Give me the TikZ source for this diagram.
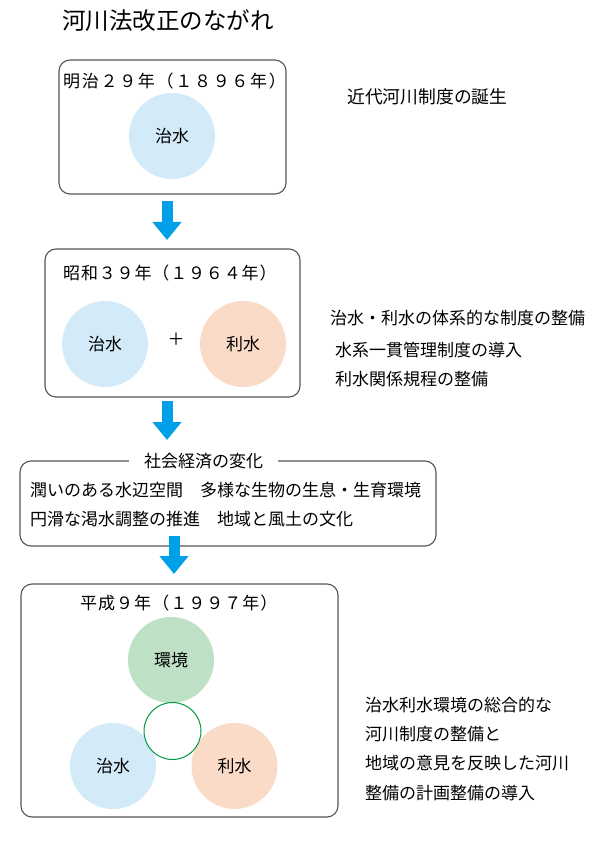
\documentclass[tikz,border=0pt]{standalone}
\usepackage{fontspec}
\setmainfont{Noto Sans CJK JP}
\usetikzlibrary{arrows.meta}
\definecolor{cblue}{RGB}{211,235,249}
\definecolor{cpeach}{RGB}{250,219,200}
\definecolor{cgreen}{RGB}{190,224,196}
\definecolor{arrowblue}{RGB}{0,160,233}
\definecolor{ringgreen}{RGB}{0,153,68}
\definecolor{boxgray}{RGB}{85,85,85}
\tikzset{
  frame/.style={draw=boxgray, line width=1.1pt, rounded corners=11pt, inner sep=0pt},
  txt/.style={anchor=west, inner sep=0pt, font=\fontsize{17pt}{20pt}\selectfont},
  ctxt/.style={inner sep=0pt, font=\fontsize{17pt}{20pt}\selectfont},
  disc/.style={circle, inner sep=0pt, minimum size=86pt, font=\fontsize{17pt}{20pt}\selectfont},
  bigarrow/.style={arrowblue, line width=11pt, -{Triangle[width=28pt,length=18pt]}},
}
\begin{document}
\begin{tikzpicture}[x=1pt,y=-1pt]
\useasboundingbox (0,0) rectangle (595,842);
% title
\node[anchor=west, inner sep=0pt, font=\fontsize{23.5pt}{28pt}\selectfont] (title) at (62,21) {河川法改正のながれ};

% box 1
\node[frame, minimum width=227pt, minimum height=134pt] (b1) at (172.5,127) {};
\node[txt] (l1) at (63,81) {\addfontfeature{LetterSpace=10}明治２９年（１８９６年）};
\node[disc, fill=cblue] (c1) at (172,136) {治水};
\node[txt, font=\fontsize{17.8pt}{20pt}\selectfont] (r1) at (347,97) {近代河川制度の誕生};

% arrow 1
\coordinate (a1s) at (167,201);
\coordinate (a1e) at (167,240);
\draw[bigarrow] (a1s) -- (a1e);

% box 2
\node[frame, minimum width=255pt, minimum height=148pt] (b2) at (172.5,323) {};
\node[txt] (l2) at (63,273) {\addfontfeature{LetterSpace=5}昭和３９年（１９６４年）};
\node[disc, fill=cblue] (c2a) at (105,344) {治水};
\node[disc, fill=cpeach] (c2b) at (243,344) {利水};
\node[ctxt] (plus) at (176,339) {＋};
\node[txt] (r2a) at (330,318) {治水・利水の体系的な制度の整備};
\node[txt] (r2b) at (335,350) {水系一貫管理制度の導入};
\node[txt] (r2c) at (335,379) {利水関係規程の整備};

% arrow 2
\coordinate (a2s) at (167,401);
\coordinate (a2e) at (167,440);
\draw[bigarrow] (a2s) -- (a2e);

% box 3
\node[frame, minimum width=416pt, minimum height=85pt] (b3) at (228,503.5) {};
\node[ctxt, fill=white, inner xsep=15pt, inner ysep=2pt] (l3) at (203.5,461) {社会経済の変化};
\node[txt] (t3a) at (30,490) {潤いのある水辺空間　多様な生物の生息・生育環境};
\node[txt] (t3b) at (30,519) {円滑な渇水調整の推進　地域と風土の文化};

% arrow 3
\coordinate (a3s) at (174,536);
\coordinate (a3e) at (174,574);
\draw[bigarrow] (a3s) -- (a3e);

% box 4
\node[frame, minimum width=317pt, minimum height=233pt] (b4) at (179.5,700.5) {};
\node[txt] (l4) at (80,603) {\addfontfeature{LetterSpace=6}平成９年（１９９７年）};
\node[disc, fill=cgreen] (c4a) at (171,660) {環境};
\node[disc, fill=cblue] (c4b) at (113,766) {治水};
\node[disc, fill=cpeach] (c4c) at (234.5,766) {利水};
\node[circle, draw=ringgreen, line width=1pt, fill=white, minimum size=57pt, inner sep=0pt] (ring) at (172.5,731) {};
\node[txt] (r4a) at (365,705) {治水利水環境の総合的な};
\node[txt] (r4b) at (365,734) {河川制度の整備と};
\node[txt] (r4c) at (365,763) {地域の意見を反映した河川};
\node[txt] (r4d) at (365,793) {整備の計画整備の導入};
\end{tikzpicture}
\end{document}
